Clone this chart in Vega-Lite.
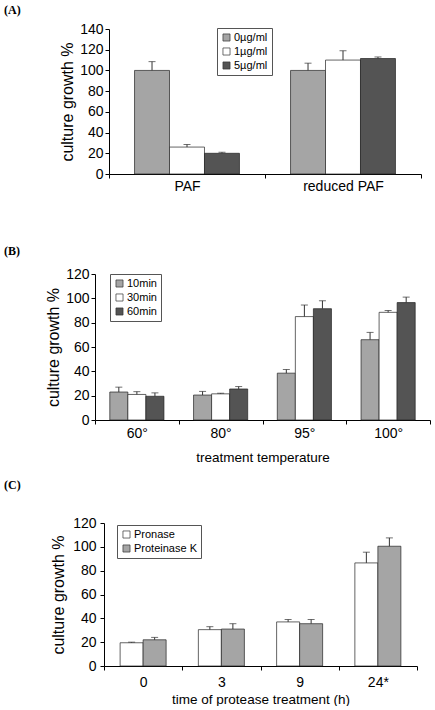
{
  "$schema": "https://vega.github.io/schema/vega-lite/v6.json",
  "padding": {"left": 4, "top": 4, "right": 0, "bottom": 0},
  "background": "white",
  "config": {
    "view": {"stroke": null},
    "font": "Liberation Sans",
    "title": {"font": "Liberation Serif", "fontWeight": "bold", "fontSize": 12, "anchor": "start", "frame": "group", "color": "#000"},
    "axis": {"labelFont": "Liberation Sans", "titleFont": "Liberation Sans", "labelColor": "#000", "titleColor": "#000", "domainColor": "#000", "tickColor": "#000", "titleFontWeight": "normal", "tickSize": 4, "grid": false, "labelFontSize": 14, "titleFontSize": 13.5, "labelOverlap": false},
    "axisY": {"titleFontSize": 16, "labelPadding": 2, "titlePadding": 4},
    "axisX": {"labelAngle": 0, "labelFontSize": 14, "tickBand": "extent"},
    "legend": {"orient": "none", "title": null, "strokeColor": "#555", "fillColor": "white", "padding": 4, "symbolType": "square", "symbolSize": 50, "symbolStrokeColor": "#333", "symbolStrokeWidth": 0.7, "labelFont": "Liberation Sans", "labelFontSize": 11, "labelColor": "#000", "rowPadding": 2, "labelOffset": 2},
    "bar": {"stroke": "#222", "strokeWidth": 0.7},
    "rule": {"color": "#333"},
    "tick": {"color": "#333", "size": 7, "thickness": 1}
  },
  "resolve": {"scale": {"x": "independent", "y": "independent", "xOffset": "independent", "fill": "independent"}, "legend": {"fill": "independent"}, "axis": {"x": "independent", "y": "independent"}},
  "spacing": 52,
  "vconcat": [
    {
      "title": {"text": "(A)", "offset": 5},
      "spacing": 0,
      "resolve": {"scale": {"x": "independent", "y": "independent", "xOffset": "independent", "fill": "independent"}, "legend": {"fill": "independent"}},
      "hconcat": [
        {"width": 55, "height": 10, "mark": "point", "data": {"values": []}},
        {
          "width": 312, "height": 145,
          "data": {"values": [
            {"group": "PAF", "conc": "0µg/ml", "value": 100, "upper": 108.5},
            {"group": "PAF", "conc": "1µg/ml", "value": 26, "upper": 28.5},
            {"group": "PAF", "conc": "5µg/ml", "value": 20, "upper": 21},
            {"group": "reduced PAF", "conc": "0µg/ml", "value": 100, "upper": 107},
            {"group": "reduced PAF", "conc": "1µg/ml", "value": 110, "upper": 119},
            {"group": "reduced PAF", "conc": "5µg/ml", "value": 111.5, "upper": 113}
          ]},
          "encoding": {
            "x": {"field": "group", "type": "nominal", "sort": ["PAF", "reduced PAF"], "scale": {"paddingInner": 0, "paddingOuter": 0}, "axis": {"title": null, "labelPadding": 1}},
            "xOffset": {"field": "conc", "type": "nominal", "sort": ["0µg/ml", "1µg/ml", "5µg/ml"], "scale": {"paddingInner": 0, "paddingOuter": 0.73}}
          },
          "layer": [
            {"mark": "bar", "encoding": {
              "y": {"field": "value", "type": "quantitative", "scale": {"domain": [0, 140]}, "axis": {"title": "culture growth %", "values": [0, 20, 40, 60, 80, 100, 120, 140], "labelOverlap": false}},
              "fill": {"field": "conc", "type": "nominal", "scale": {"domain": ["0µg/ml", "1µg/ml", "5µg/ml"], "range": ["#a5a5a5", "#ffffff", "#545454"]}, "legend": {"legendX": 108, "legendY": -1}}
            }},
            {"mark": "rule", "encoding": {"y": {"field": "value", "type": "quantitative", "axis": {"title": "culture growth %", "values": [0, 20, 40, 60, 80, 100, 120, 140], "labelOverlap": false}}, "y2": {"field": "upper"}}},
            {"mark": "tick", "encoding": {"y": {"field": "upper", "type": "quantitative", "axis": {"title": "culture growth %", "values": [0, 20, 40, 60, 80, 100, 120, 140], "labelOverlap": false}}}}
          ]
        }
      ]
    },
    {
      "spacing": 15,
      "resolve": {"scale": {"x": "independent", "y": "independent", "xOffset": "independent", "fill": "independent"}, "legend": {"fill": "independent"}, "axis": {"x": "independent", "y": "independent"}},
      "vconcat": [
        {
          "title": {"text": "(B)", "offset": 9},
          "spacing": 0,
          "resolve": {"scale": {"x": "independent", "y": "independent", "xOffset": "independent", "fill": "independent"}, "legend": {"fill": "independent"}},
          "hconcat": [
            {"width": 41, "height": 10, "mark": "point", "data": {"values": []}},
            {
              "width": 335, "height": 146,
              "data": {"values": [
                {"temp": "60°", "time": "10min", "value": 23, "upper": 27},
                {"temp": "60°", "time": "30min", "value": 21, "upper": 23.3},
                {"temp": "60°", "time": "60min", "value": 19.5, "upper": 22.3},
                {"temp": "80°", "time": "10min", "value": 20.5, "upper": 23.5},
                {"temp": "80°", "time": "30min", "value": 21.5, "upper": 22},
                {"temp": "80°", "time": "60min", "value": 25.5, "upper": 27.5},
                {"temp": "95°", "time": "10min", "value": 38.5, "upper": 41.5},
                {"temp": "95°", "time": "30min", "value": 85, "upper": 94.5},
                {"temp": "95°", "time": "60min", "value": 91.5, "upper": 98},
                {"temp": "100°", "time": "10min", "value": 66, "upper": 72},
                {"temp": "100°", "time": "30min", "value": 88.5, "upper": 90},
                {"temp": "100°", "time": "60min", "value": 96.5, "upper": 101}
              ]},
              "encoding": {
                "x": {"field": "temp", "type": "nominal", "sort": ["60°", "80°", "95°", "100°"], "scale": {"paddingInner": 0, "paddingOuter": 0}, "axis": {"title": "treatment temperature", "labelPadding": 2, "titlePadding": 10}},
                "xOffset": {"field": "time", "type": "nominal", "sort": ["10min", "30min", "60min"], "scale": {"paddingInner": 0, "paddingOuter": 0.82}}
              },
              "layer": [
                {"mark": "bar", "encoding": {
                  "y": {"field": "value", "type": "quantitative", "scale": {"domain": [0, 120]}, "axis": {"title": "culture growth %", "values": [0, 20, 40, 60, 80, 100, 120], "labelOverlap": false}},
                  "fill": {"field": "time", "type": "nominal", "scale": {"domain": ["10min", "30min", "60min"], "range": ["#a5a5a5", "#ffffff", "#545454"]}, "legend": {"legendX": 15, "legendY": 0}}
                }},
                {"mark": "rule", "encoding": {"y": {"field": "value", "type": "quantitative", "axis": {"title": "culture growth %", "values": [0, 20, 40, 60, 80, 100, 120], "labelOverlap": false}}, "y2": {"field": "upper"}}},
                {"mark": "tick", "encoding": {"y": {"field": "upper", "type": "quantitative", "axis": {"title": "culture growth %", "values": [0, 20, 40, 60, 80, 100, 120], "labelOverlap": false}}}}
              ]
            }
          ]
        },
        {
          "title": {"text": "(C)", "offset": 24},
          "spacing": 0,
          "resolve": {"scale": {"x": "independent", "y": "independent", "xOffset": "independent", "fill": "independent"}, "legend": {"fill": "independent"}},
          "hconcat": [
            {"width": 46, "height": 10, "mark": "point", "data": {"values": []}},
            {
              "width": 313, "height": 143,
              "data": {"values": [
                {"hours": "0", "enzyme": "Pronase", "value": 19.5, "upper": 20},
                {"hours": "0", "enzyme": "Proteinase K", "value": 22, "upper": 24},
                {"hours": "3", "enzyme": "Pronase", "value": 30.5, "upper": 33},
                {"hours": "3", "enzyme": "Proteinase K", "value": 31, "upper": 35.5},
                {"hours": "9", "enzyme": "Pronase", "value": 37, "upper": 39},
                {"hours": "9", "enzyme": "Proteinase K", "value": 35.5, "upper": 39},
                {"hours": "24*", "enzyme": "Pronase", "value": 86.5, "upper": 95.5},
                {"hours": "24*", "enzyme": "Proteinase K", "value": 100.5, "upper": 107.5}
              ]},
              "encoding": {
                "x": {"field": "hours", "type": "nominal", "sort": ["0", "3", "9", "24*"], "scale": {"paddingInner": 0, "paddingOuter": 0}, "axis": {"title": "time of protease treatment (h)", "labelPadding": 5, "titlePadding": 3}},
                "xOffset": {"field": "enzyme", "type": "nominal", "sort": ["Pronase", "Proteinase K"], "scale": {"paddingInner": 0, "paddingOuter": 0.7}}
              },
              "layer": [
                {"mark": "bar", "encoding": {
                  "y": {"field": "value", "type": "quantitative", "scale": {"domain": [0, 120]}, "axis": {"title": "culture growth %", "values": [0, 20, 40, 60, 80, 100, 120], "labelPadding": 4, "titlePadding": 6, "labelOverlap": false}},
                  "fill": {"field": "enzyme", "type": "nominal", "scale": {"domain": ["Pronase", "Proteinase K"], "range": ["#ffffff", "#a5a5a5"]}, "legend": {"legendX": 13, "legendY": 2}}
                }},
                {"mark": "rule", "encoding": {"y": {"field": "value", "type": "quantitative", "axis": {"title": "culture growth %", "values": [0, 20, 40, 60, 80, 100, 120], "labelPadding": 4, "titlePadding": 6, "labelOverlap": false}}, "y2": {"field": "upper"}}},
                {"mark": "tick", "encoding": {"y": {"field": "upper", "type": "quantitative", "axis": {"title": "culture growth %", "values": [0, 20, 40, 60, 80, 100, 120], "labelPadding": 4, "titlePadding": 6, "labelOverlap": false}}}}
              ]
            }
          ]
        }
      ]
    }
  ]
}
